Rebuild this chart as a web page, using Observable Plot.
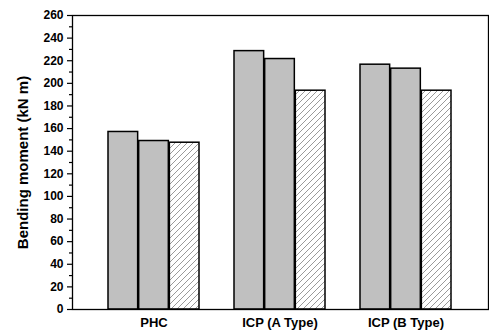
<!DOCTYPE html>
<html><head><meta charset="utf-8">
<script src="https://cdn.jsdelivr.net/npm/d3@7"></script>
<script src="https://cdn.jsdelivr.net/npm/@observablehq/plot@0.6"></script>
<style>body{margin:0;background:#fff}</style>
</head><body><div id="chart"></div>
<script>
const groups = ["PHC", "ICP (A Type)", "ICP (B Type)"];
const series = ["s1", "s2", "s3"];
const values = [
  [157, 149, 147.5],
  [228.5, 221.5, 193.5],
  [216.5, 213, 193.5]
];
const majorTicks = [0,20,40,60,80,100,120,140,160,180,200,220,240,260];
const minorTicks = [10,30,50,70,90,110,130,150,170,190,210,230,250];
const fills = ["#c0c0c0", "#c0c0c0", "url(#hatch)"];

const data = [];
groups.forEach((g, i) => series.forEach((s, j) => data.push({group: g, series: s, value: values[i][j], fill: fills[j]})));

const W = 489, H = 331, ML = 72, MR = 1, MT = 15, MB = 22;
const PI = 0.274, PO = 0.278;
// band width of the group scale, derived from the layout
const step = (W - ML - MR) / (groups.length - PI + 2 * PO);
const bw = step * (1 - PI);
const sub = bw / series.length;

const plot = Plot.plot({
  width: W, height: H,
  marginLeft: ML, marginRight: MR, marginTop: MT, marginBottom: MB,
  style: {fontFamily: "'Liberation Sans', Arial, sans-serif", fontWeight: "bold", fontSize: "12px", color: "#000", background: "#fff"},
  x: {domain: groups, paddingInner: PI, paddingOuter: PO, label: null},
  y: {domain: [0, 260]},
  marks: [
    ...series.map((s, j) => Plot.barY(data.filter(d => d.series === s), {
      x: "group", y: "value", fill: d => d.fill, stroke: "#000", strokeWidth: 1.5,
      insetLeft: j * sub, insetRight: (series.length - 1 - j) * sub
    })),
    Plot.frame({stroke: "#000", strokeWidth: 1.3}),
    Plot.axisX({tickSize: 0, tickPadding: 8, fontSize: 13, label: null}),
    Plot.axisY({ticks: majorTicks, tickSize: 5, tickPadding: 4, strokeWidth: 1.2, fontSize: 12,
      label: "Bending moment (kN m)", labelAnchor: "center", labelOffset: 55, labelArrow: false}),
    Plot.axisY({ticks: minorTicks, tickSize: 3, strokeWidth: 1.2, tickFormat: () => "", label: null})
  ]
});
document.getElementById("chart").appendChild(plot);

const svg = d3.select(plot);
// hatch pattern defs
const defs = svg.insert("defs", ":first-child");
const pat = defs.append("pattern").attr("id", "hatch").attr("patternUnits", "userSpaceOnUse")
  .attr("width", 6).attr("height", 6);
pat.append("rect").attr("width", 6).attr("height", 6).attr("fill", "#fff");
pat.append("path").attr("d", "M-1,1 L1,-1 M0,6 L6,0 M5,7 L7,5").attr("stroke", "#808080").attr("stroke-width", 0.8);
svg.selectAll("g[aria-label='y-axis label']").style("font-size", "15px");
</script></body></html>
